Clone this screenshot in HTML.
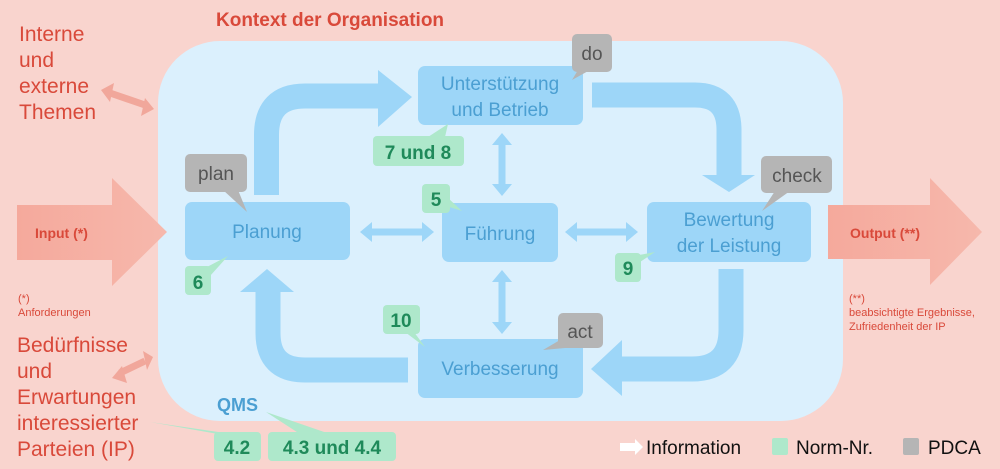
<!DOCTYPE html>
<html><head><meta charset="utf-8"><style>
html,body{margin:0;padding:0;width:1000px;height:469px;overflow:hidden;background:#f9d4ce}
svg{display:block;font-family:"Liberation Sans",sans-serif}
</style></head><body>
<svg width="1000" height="469" viewBox="0 0 1000 469">
<rect width="1000" height="469" fill="#f9d4ce"/>
<rect x="158" y="41" width="685" height="380" rx="62" fill="#dbf0fd"/>
<text x="216" y="26" font-size="19" font-weight="bold" fill="#d9493a">Kontext der Organisation</text>
<g fill="#d9493a" font-size="21">
<text x="19" y="41">Interne</text><text x="19" y="67">und</text><text x="19" y="93">externe</text><text x="19" y="119">Themen</text>
<text x="17" y="352">Bedürfnisse</text><text x="17" y="378">und</text><text x="17" y="404">Erwartungen</text><text x="17" y="430">interessierter</text><text x="17" y="456">Parteien (IP)</text>
</g>
<g fill="#d9493a" font-size="11">
<text x="18" y="302">(*)</text><text x="18" y="316">Anforderungen</text>
<text x="849" y="302">(**)</text><text x="849" y="316">beabsichtigte Ergebnisse,</text><text x="849" y="330">Zufriedenheit der IP</text>
</g>
<!-- small double arrows -->
<g stroke="#f1a79b" stroke-width="7" fill="#f1a79b">
<line x1="110" y1="93" x2="145" y2="105"/>
<line x1="120" y1="373" x2="145" y2="361"/>
</g>
<polygon points="101,90 114,83 110,102" fill="#f1a79b"/>
<polygon points="154,109 141,116 145,98" fill="#f1a79b"/>
<polygon points="112,378 122,366 127,383" fill="#f1a79b"/>
<polygon points="153,357 143,351 147,370" fill="#f1a79b"/>
<!-- input/output -->
<defs><linearGradient id="g" x1="0" x2="1"><stop offset="0" stop-color="#f5a99c"/><stop offset="1" stop-color="#f6b8ac"/></linearGradient></defs>
<polygon points="17,205 112,205 112,178 167,232 112,286 112,260 17,260" fill="url(#g)"/>
<polygon points="828,205 930,205 930,178 982,232 930,285 930,259 828,259" fill="url(#g)"/>
<text x="35" y="238" font-size="14" font-weight="bold" fill="#d9493a">Input (*)</text>
<text x="850" y="238" font-size="14" font-weight="bold" fill="#d9493a">Output (**)</text>
<!-- big arrows -->
<g fill="none" stroke="#9dd6f8" stroke-width="25">
<path d="M266.5 195 V135 Q266.5 96 305 96 H382"/>
<path d="M592 95 H695 Q729 95 729 130 V178"/>
<path d="M731 269 V330 Q731 369 692 369 H618"/>
<path d="M408 370 H305 Q268 370 268 333 V290"/>
</g>
<g fill="#9dd6f8">
<polygon points="378,70 412,97 378,127"/>
<polygon points="702,175 755,175 729,192"/>
<polygon points="622,340 591,369 622,396"/>
<polygon points="240,292 294,292 267,269"/>
</g>
<!-- double arrows -->
<g stroke="#9dd6f8" stroke-width="7" fill="#9dd6f8">
<line x1="370" y1="232" x2="424" y2="232"/><polygon points="360,232 372,222 372,242" stroke="none"/><polygon points="434,232 422,222 422,242" stroke="none"/>
<line x1="575" y1="232" x2="628" y2="232"/><polygon points="565,232 577,222 577,242" stroke="none"/><polygon points="638,232 626,222 626,242" stroke="none"/>
<line x1="502" y1="143" x2="502" y2="186"/><polygon points="502,133 492,145 512,145" stroke="none"/><polygon points="502,196 492,184 512,184" stroke="none"/>
<line x1="502" y1="280" x2="502" y2="324"/><polygon points="502,270 492,282 512,282" stroke="none"/><polygon points="502,334 492,322 512,322" stroke="none"/>
</g>
<!-- boxes -->
<g fill="#9dd6f8">
<rect x="185" y="202" width="165" height="58" rx="7"/>
<rect x="418" y="66" width="165" height="59" rx="7"/>
<rect x="442" y="203" width="116" height="59" rx="7"/>
<rect x="647" y="202" width="164" height="60" rx="7"/>
<rect x="418" y="339" width="165" height="59" rx="7"/>
</g>
<g fill="#4b9fd2" font-size="19" text-anchor="middle">
<text x="267" y="238">Planung</text>
<text x="500" y="90">Unterstützung</text><text x="500" y="116">und Betrieb</text>
<text x="500" y="240">Führung</text>
<text x="729" y="226">Bewertung</text><text x="729" y="252">der Leistung</text>
<text x="500" y="375">Verbesserung</text>
</g>
<text x="217" y="411" font-size="18" font-weight="bold" fill="#4b9fd2">QMS</text>
<!-- gray callouts -->
<g fill="#b5b5b5">
<rect x="185" y="154" width="62" height="38" rx="5"/><polygon points="223,190 238,190 247,212"/>
<rect x="572" y="34" width="40" height="38" rx="5"/><polygon points="578,70 590,70 572,80"/>
<rect x="761" y="156" width="71" height="37" rx="5"/><polygon points="775,191 790,191 762,211"/>
<rect x="558" y="313" width="45" height="35" rx="5"/><polygon points="560,340 565,348 543,350"/>
</g>
<g fill="#555" font-size="19" text-anchor="middle">
<text x="216" y="180">plan</text><text x="592" y="60">do</text><text x="797" y="182">check</text><text x="580" y="338">act</text>
</g>
<!-- green callouts -->
<g fill="#aee8cb">
<rect x="373" y="136" width="91" height="30" rx="4"/><polygon points="428,137 445,137 448,124"/>
<rect x="422" y="184" width="28" height="29" rx="4"/><polygon points="443,205 448,198 462,211"/>
<rect x="185" y="266" width="26" height="29" rx="4"/><polygon points="205,268 210,276 228,256"/>
<rect x="615" y="253" width="26" height="29" rx="4"/><polygon points="634,256 640,262 655,252"/>
<rect x="383" y="305" width="37" height="29" rx="4"/><polygon points="405,332 414,332 425,347"/>
<rect x="214" y="432" width="47" height="29" rx="4"/><polygon points="218,434 232,434 150,422"/>
<rect x="268" y="432" width="128" height="29" rx="4"/><polygon points="300,434 330,434 266,412"/>
</g>
<g fill="#1f8a5a" font-size="19" font-weight="bold" text-anchor="middle">
<text x="418" y="159">7 und 8</text><text x="436" y="206">5</text><text x="198" y="289">6</text>
<text x="628" y="275">9</text><text x="401" y="327">10</text><text x="237" y="454">4.2</text><text x="332" y="454">4.3 und 4.4</text>
</g>
<!-- legend -->
<polygon points="620,443 635,443 635,439 643,447 635,455 635,451 620,451" fill="#fff"/>
<text x="646" y="454" font-size="19" fill="#111">Information</text>
<rect x="772" y="438" width="16" height="17" rx="2" fill="#aee8cb"/>
<text x="796" y="454" font-size="19" fill="#111">Norm-Nr.</text>
<rect x="903" y="438" width="16" height="17" rx="2" fill="#b5b5b5"/>
<text x="928" y="454" font-size="19" fill="#111">PDCA</text>
</svg>
</body></html>
